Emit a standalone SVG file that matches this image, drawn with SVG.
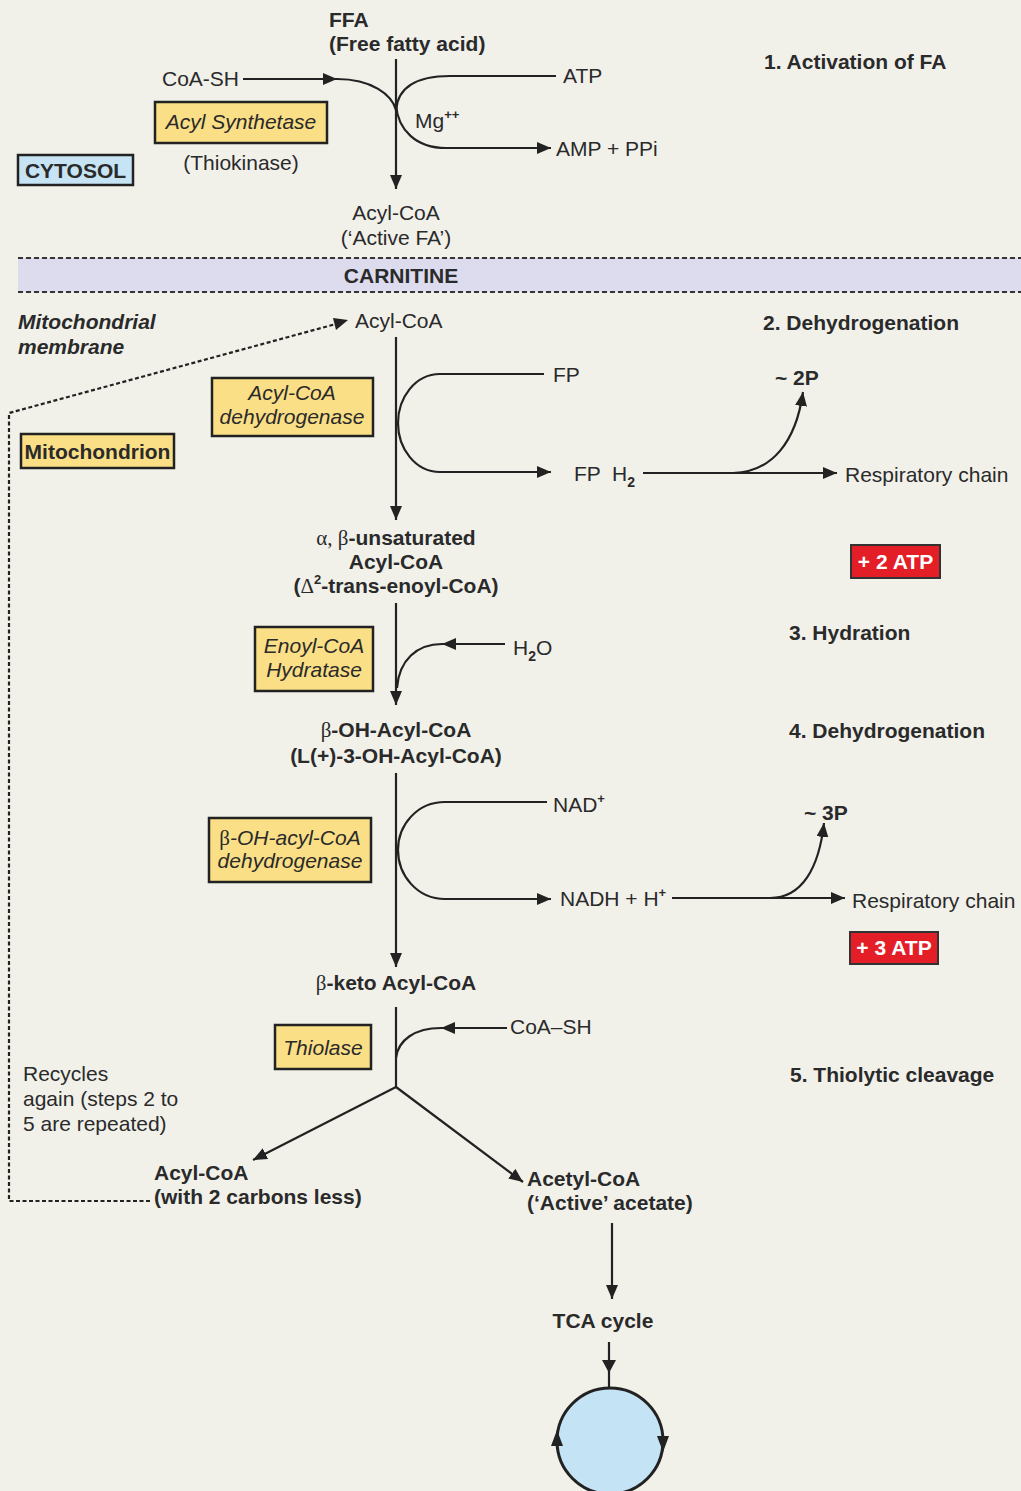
<svg xmlns="http://www.w3.org/2000/svg" width="1021" height="1491" viewBox="0 0 1021 1491">
<defs>
<marker id="ah" markerUnits="userSpaceOnUse" markerWidth="15" markerHeight="12" refX="14" refY="6" orient="auto">
<path d="M0,0 L14,6 L0,12 z" fill="#222"/>
</marker>
<style>
text{font-family:"Liberation Sans",Arial,sans-serif;font-size:21px;fill:#2a2a2a}
.b{font-weight:bold}
.i{font-style:italic}
.c{text-anchor:middle}
.g{font-family:"Liberation Serif","Times New Roman",serif;font-weight:normal;font-style:normal}
.sup{font-size:13px;font-weight:bold}
.sub{font-size:14px;font-weight:bold}
.ln{fill:none;stroke:#222;stroke-width:2.2}
.arr{marker-end:url(#ah)}
.dot{fill:none;stroke:#222;stroke-width:2.2;stroke-dasharray:4 2.5}
.enz{fill:#fadf86;stroke:#222;stroke-width:2.5}
.atp{fill:#e31e26;stroke:#333;stroke-width:2}
.w{fill:#fff;font-weight:bold}
</style>
</defs>
<rect width="1021" height="1491" fill="#f1f1ea"/>

<!-- membrane band -->
<g id="carnitine">
<rect x="18" y="258" width="1003" height="34" fill="#dcdcee"/>
<path d="M18,258 H1021 M18,292 H1021" fill="none" stroke="#333" stroke-width="2" stroke-dasharray="5 3"/>
<text class="b c" x="401" y="283">CARNITINE</text>
</g>

<g id="connectors">
<!-- activation -->
<path class="ln arr" d="M396,59 V189"/>
<path class="ln arr" d="M243,79 H337"/>
<path class="ln" d="M337,79 C372,79 392,95 396,110"/>
<path class="ln" d="M396,110 C398,88 416,76 450,76 H556"/>
<path class="ln arr" d="M396,105 C398,130 416,148 446,148 H551"/>
<!-- recycle dotted -->
<path class="dot" d="M150,1201 H9 V413 L336,324"/>
<path d="M333,318 L348,320 L336,330 z" fill="#222"/>
<!-- dehydrogenation 1 -->
<path class="ln arr" d="M396,337 V520"/>
<path class="ln" d="M544,374 H440 C415,374 398,398 398,423 C398,448 415,472 440,472"/>
<path class="ln arr" d="M440,472 H551"/>
<path class="ln arr" d="M643,473 H837"/>
<path class="ln arr" d="M733,473 C772,472 796,442 803,392"/>
<!-- hydration -->
<path class="ln arr" d="M396,603 V705"/>
<path class="ln arr" d="M505,644 H442"/>
<path class="ln" d="M442,644 C417,644 399,660 397,688"/>
<!-- dehydrogenation 2 -->
<path class="ln arr" d="M396,773 V967"/>
<path class="ln" d="M547,802 H445 C417,802 398,825 398,850 C398,875 417,899 445,899"/>
<path class="ln arr" d="M445,899 H551"/>
<path class="ln arr" d="M672,898 H845"/>
<path class="ln arr" d="M770,898 C802,898 819,868 824,823"/>
<!-- thiolase -->
<path class="ln" d="M396,1007 V1087"/>
<path class="ln arr" d="M507,1028 H441"/>
<path class="ln" d="M441,1028 C415,1028 398,1040 396,1058"/>
<path class="ln arr" d="M396,1087 L253,1160"/>
<path class="ln arr" d="M396,1087 L523,1182"/>
<!-- TCA -->
<path class="ln arr" d="M612,1223 V1299"/>
<path class="ln" d="M609,1342 V1388"/>
<path d="M602,1360 L616,1360 L609,1373 z" fill="#222"/>
</g>

<g id="cytosol"><rect x="18" y="155" width="115" height="30" fill="#c6e4f4" stroke="#222" stroke-width="2.5"/><text class="b c" x="75.5" y="178">CYTOSOL</text></g>
<g id="ffa"><text class="b" x="329" y="27">FFA</text><text class="b" x="329" y="51">(Free fatty acid)</text></g>
<g id="coash1"><text x="162" y="86">CoA-SH</text></g>
<g id="acyl-synthetase"><rect class="enz" x="155" y="102" width="172" height="41"/><text class="i c" x="241" y="129">Acyl Synthetase</text><text class="c" x="241" y="170">(Thiokinase)</text></g>
<g id="atp1"><text x="563" y="83">ATP</text></g>
<g id="mg"><text x="415" y="128">Mg<tspan class="sup" dy="-9">++</tspan></text></g>
<g id="amp"><text x="556" y="156">AMP + PPi</text></g>
<g id="acylcoa1"><text class="c" x="396" y="220">Acyl-CoA</text><text class="c" x="396" y="245">(‘Active FA’)</text></g>
<g id="step1"><text class="b" x="764" y="69">1. Activation of FA</text></g>

<g id="mito-membrane"><text class="b i" x="18" y="329">Mitochondrial</text><text class="b i" x="18" y="354">membrane</text></g>
<g id="acylcoa2"><text x="355" y="328">Acyl-CoA</text></g>
<g id="step2"><text class="b" x="763" y="330">2. Dehydrogenation</text></g>
<g id="fp"><text x="553" y="382">FP</text></g>
<g id="p2"><text class="b" x="775" y="385">~ 2P</text></g>
<g id="acyl-coa-dh"><rect class="enz" x="212" y="378" width="161" height="58"/><text class="i c" x="292" y="400">Acyl-CoA</text><text class="i c" x="292" y="424">dehydrogenase</text></g>
<g id="mitochondrion"><rect class="enz" x="21" y="434" width="153" height="34"/><text class="b c" x="97.5" y="459">Mitochondrion</text></g>
<g id="fph2"><text x="574" y="481">FP<tspan x="612">H</tspan><tspan class="sub" dy="6">2</tspan></text></g>
<g id="resp1"><text x="845" y="482">Respiratory chain</text></g>
<g id="enoyl"><text class="c" x="396" y="545"><tspan class="g">α, β</tspan><tspan class="b">-unsaturated</tspan></text><text class="b c" x="396" y="569">Acyl-CoA</text><text class="b c" x="396" y="593">(<tspan class="g">Δ</tspan><tspan class="sup" dy="-9">2</tspan><tspan dy="9">-trans-enoyl-CoA)</tspan></text></g>
<g id="atp2"><rect class="atp" x="851" y="545" width="89" height="33"/><text class="w c" x="895.5" y="569">+ 2 ATP</text></g>
<g id="step3"><text class="b" x="789" y="640">3. Hydration</text></g>
<g id="hydratase"><rect class="enz" x="255" y="627" width="118" height="64"/><text class="i c" x="314" y="653">Enoyl-CoA</text><text class="i c" x="314" y="677">Hydratase</text></g>
<g id="h2o"><text x="513" y="655">H<tspan class="sub" dy="6">2</tspan><tspan dy="-6">O</tspan></text></g>
<g id="ohacyl"><text class="b c" x="396" y="737"><tspan class="g">β</tspan>-OH-Acyl-CoA</text><text class="b c" x="396" y="763">(L(+)-3-OH-Acyl-CoA)</text></g>
<g id="step4"><text class="b" x="789" y="738">4. Dehydrogenation</text></g>
<g id="nad"><text x="553" y="812">NAD<tspan class="sup" dy="-9">+</tspan></text></g>
<g id="p3"><text class="b" x="804" y="820">~ 3P</text></g>
<g id="oh-dh"><rect class="enz" x="209" y="818" width="162" height="64"/><text class="i c" x="290" y="845"><tspan class="g">β</tspan>-OH-acyl-CoA</text><text class="i c" x="290" y="868">dehydrogenase</text></g>
<g id="nadh"><text x="560" y="906">NADH + H<tspan class="sup" dy="-9">+</tspan></text></g>
<g id="resp2"><text x="852" y="908">Respiratory chain</text></g>
<g id="atp3"><rect class="atp" x="850" y="932" width="88" height="32"/><text class="w c" x="894" y="955">+ 3 ATP</text></g>
<g id="ketoacyl"><text class="b c" x="396" y="990"><tspan class="g">β</tspan>-keto Acyl-CoA</text></g>
<g id="coash2"><text x="510" y="1034">CoA–SH</text></g>
<g id="thiolase"><rect class="enz" x="275" y="1025" width="96" height="44"/><text class="i c" x="323" y="1055">Thiolase</text></g>
<g id="step5"><text class="b" x="790" y="1082">5. Thiolytic cleavage</text></g>
<g id="recycles"><text x="23" y="1081">Recycles</text><text x="23" y="1106">again (steps 2 to</text><text x="23" y="1131">5 are repeated)</text></g>
<g id="acylcoa3"><text class="b" x="154" y="1180">Acyl-CoA</text><text class="b" x="154" y="1204">(with 2 carbons less)</text></g>
<g id="acetylcoa"><text class="b" x="527" y="1186">Acetyl-CoA</text><text class="b" x="527" y="1210">(‘Active’ acetate)</text></g>
<g id="tca"><text class="b c" x="603" y="1328">TCA cycle</text>
<circle cx="610" cy="1441" r="53" fill="#c4e4f6" stroke="#222" stroke-width="3"/>
<path d="M551,1446 L563,1446 L557,1430 z" fill="#222"/>
<path d="M657,1436 L669,1436 L663,1452 z" fill="#222"/>
</g>
</svg>
